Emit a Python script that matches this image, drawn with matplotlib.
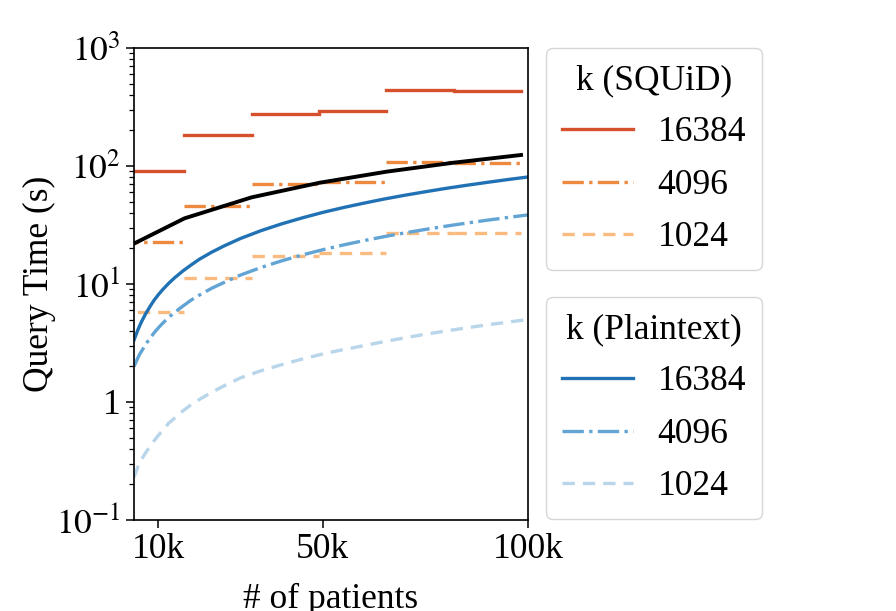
import matplotlib
matplotlib.use("Agg")
import matplotlib.pyplot as plt
from matplotlib.ticker import FixedLocator, FixedFormatter, LogLocator, NullFormatter
from matplotlib.lines import Line2D

plt.rcParams['font.family'] = ['Liberation Serif', 'DejaVu Serif']
plt.rcParams['mathtext.fontset'] = 'stix'

# ---- data ----
# SQuID: step values per block of 16384 patients
step_edges = [0, 16384, 32768, 49152, 65536, 81920, 98304]
squid_16384 = [91, 182, 277, 294, 438, 430]
squid_4096 = [22.5, 45.8, 70, 73.6, 108, 107]
squid_1024 = [5.8, 11.3, 17.4, 18.3, 27, 27]

# black reference line
ref_n = [4096, 16384, 32768, 49152, 65536, 81920, 98304]
ref_time = [22, 36, 54.3, 72, 89.5, 106.7, 124]

# Plaintext curves
plain_n = [4096, 4500, 5000, 5500, 6000, 7000, 8000, 9000, 10000, 11000, 12500,
           14000, 16000, 18000, 20000, 23000, 26000, 30000, 35000, 40000, 45000,
           50000, 55000, 60000, 65000, 70000, 75000, 80000, 85000, 90000, 95000,
           100000]
plain_16384 = [3.35, 3.65, 4.05, 4.45, 4.85, 5.65, 6.45, 7.3, 8.1, 8.9, 10.1,
               11.3, 12.9, 14.5, 16.2, 18.6, 21.0, 24.3, 28.3, 32.3, 36.3,
               40.4, 44.4, 48.4, 52.5, 56.5, 60.5, 64.6, 68.6, 72.6, 76.7,
               80.7]
plain_4096 = [2.0, 2.15, 2.35, 2.55, 2.72, 3.1, 3.48, 3.86, 4.24, 4.62, 5.2,
              5.75, 6.5, 7.3, 8.05, 9.2, 10.3, 11.9, 13.8, 15.7, 17.6,
              19.5, 21.4, 23.3, 25.2, 27.1, 29.0, 30.9, 32.8, 34.7, 36.6,
              38.5]
plain_1024 = [0.23, 0.25, 0.28, 0.305, 0.33, 0.375, 0.42, 0.47, 0.52, 0.57, 0.66,
              0.73, 0.84, 0.95, 1.05, 1.21, 1.37, 1.6, 1.84, 2.07, 2.31,
              2.55, 2.78, 3.0, 3.25, 3.5, 3.75, 4.0, 4.25, 4.5, 4.75,
              5.0]

x_ticks = [10000, 50000, 100000]
x_ticklabels = ['10k', '50k', '100k']
y_ticks = [0.1, 1, 10, 100, 1000]
y_ticklabels = [r'$10^{-1}$', '1', r'$10^{1}$', r'$10^{2}$', r'$10^{3}$']
k_labels = ['16384', '4096', '1024']

squid_colors = ['#d6502c', '#ee8a3f', '#f9bb80']
plain_colors = ['#2172b4', '#62a4d4', '#b9d5ea']
styles = ['-', '-.', (0, (3.7, 2.4))]
lw = 2.4
FS = 25.5

fig = plt.figure(figsize=(8.96, 6.11), dpi=100)
ax = fig.add_axes([134 / 896, 1 - 520 / 611, (528 - 134) / 896, (520 - 48) / 611])

for vals, c, ls in zip([squid_16384, squid_4096, squid_1024], squid_colors, styles):
    for i, v in enumerate(vals):
        ax.plot([step_edges[i], step_edges[i + 1]], [v, v], color=c, ls=ls, lw=lw)

ax.plot(ref_n, ref_time, color='black', lw=2.8)

for vals, c, ls in zip([plain_16384, plain_4096, plain_1024], plain_colors, styles):
    ax.plot(plain_n, vals, color=c, ls=ls, lw=lw)

ax.set_yscale('log')
ax.set_xlim(4096, 100000)
ax.set_ylim(0.1, 1000)
ax.xaxis.set_major_locator(FixedLocator(x_ticks))
ax.xaxis.set_major_formatter(FixedFormatter(x_ticklabels))
ax.yaxis.set_major_locator(FixedLocator(y_ticks))
ax.yaxis.set_major_formatter(FixedFormatter(y_ticklabels))
ax.yaxis.set_minor_locator(LogLocator(base=10, subs=range(2, 10), numticks=20))
ax.yaxis.set_minor_formatter(NullFormatter())
ax.tick_params(axis='both', which='major', labelsize=FS, length=6, width=1.1)
ax.tick_params(axis='y', which='minor', length=3.5, width=0.9)
for s in ax.spines.values():
    s.set_linewidth(1.2)

ax.set_xlabel('# of patients', fontsize=FS, labelpad=12)
ax.set_ylabel('Query Time (s)', fontsize=FS, labelpad=0)

h1 = [Line2D([], [], color=c, ls=ls, lw=lw) for c, ls in zip(squid_colors, styles)]
h2 = [Line2D([], [], color=c, ls=ls, lw=lw) for c, ls in zip(plain_colors, styles)]
leg_kw = dict(loc='upper left', fontsize=FS, title_fontsize=FS, borderaxespad=0,
              labelspacing=0.55, borderpad=0.45, handletextpad=0.7)
leg1 = fig.legend(h1, k_labels, title='k (SQUiD)',
                  bbox_to_anchor=(546 / 896, 1 - 48 / 611), **leg_kw)
leg2 = fig.legend(h2, k_labels, title='k (Plaintext)',
                  bbox_to_anchor=(546 / 896, 1 - 297 / 611), **leg_kw)

fig.savefig('out.png', dpi=100)
